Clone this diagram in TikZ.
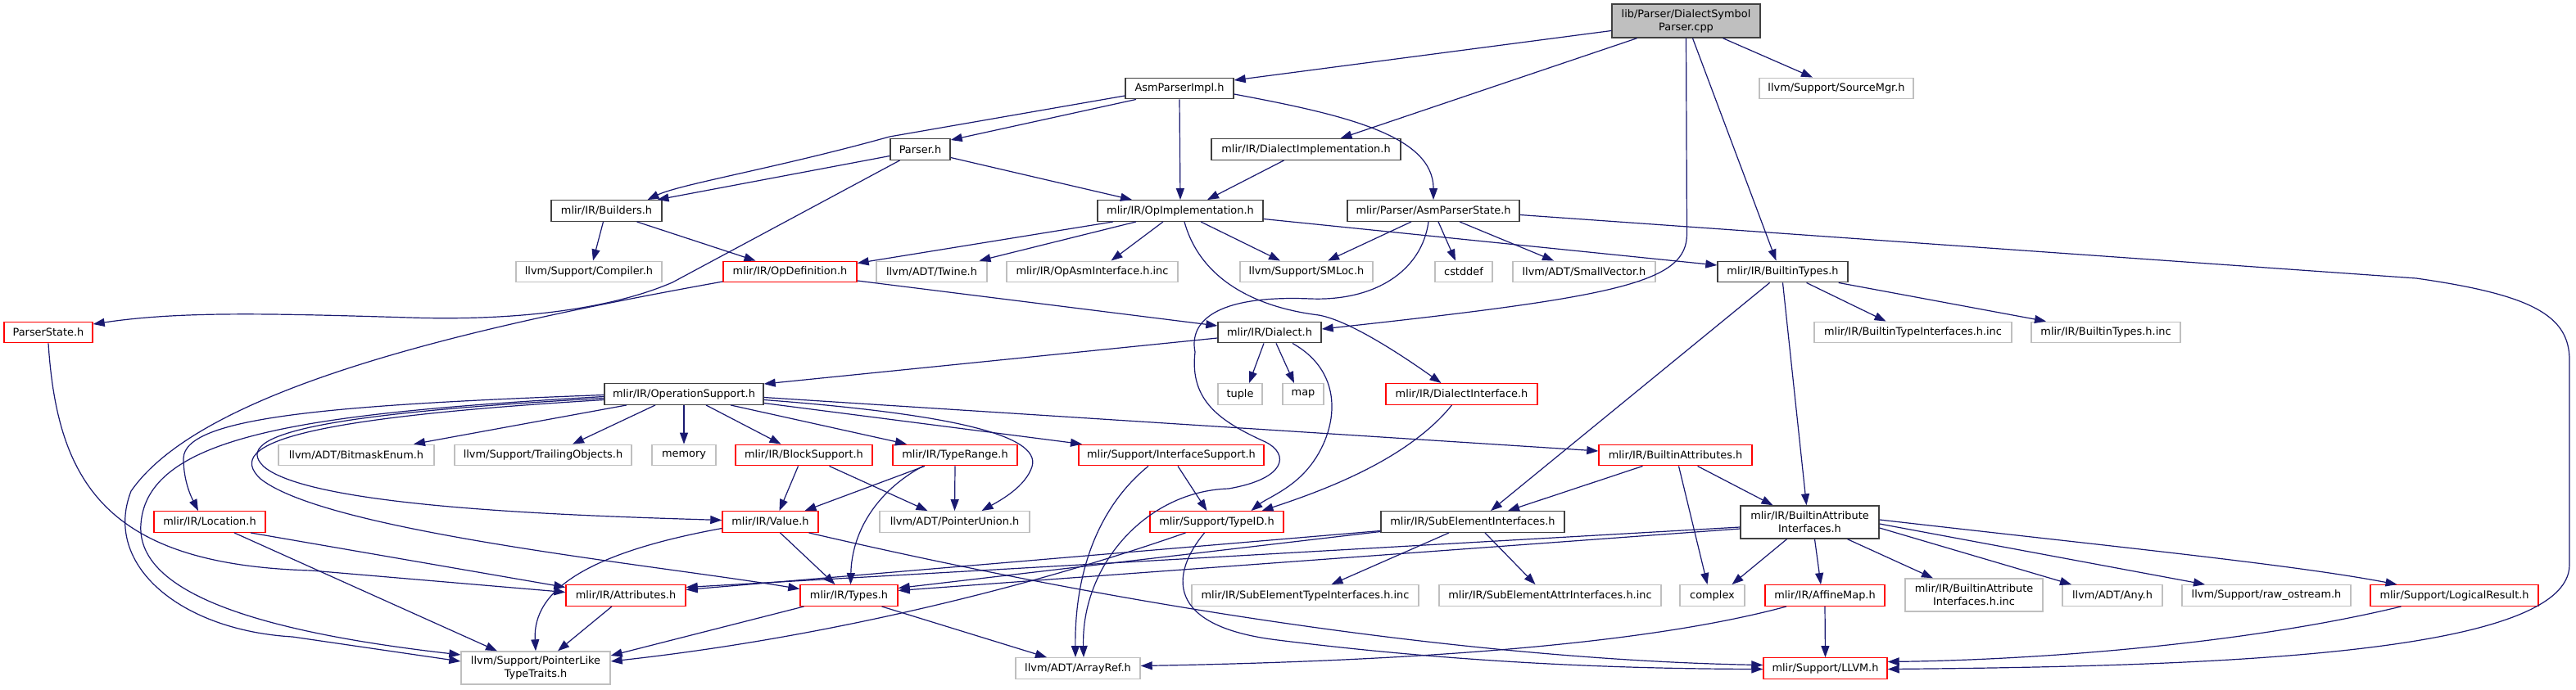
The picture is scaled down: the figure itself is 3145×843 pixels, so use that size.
\documentclass[tikz,border=0pt]{standalone}
\usepackage{fontspec}
\setmainfont{DejaVu Sans}
\usetikzlibrary{arrows.meta,calc}
\definecolor{edgec}{HTML}{191970}
\definecolor{grayb}{HTML}{BFBFBF}
\definecolor{blkb}{HTML}{404040}
\definecolor{redb}{HTML}{FF0000}
\definecolor{topf}{HTML}{BFBFBF}
\begin{document}
\begin{tikzpicture}[x=1pt,y=-1pt,
  nd/.style={rectangle, minimum height=25.5pt, inner xsep=3pt, inner ysep=0pt, font=\fontsize{12.9}{16}\selectfont, line width=1.4pt, align=center, fill=white},
  blk/.style={nd, draw=blkb},
  gry/.style={nd, draw=grayb},
  rd/.style={nd, draw=redb},
  tp/.style={nd, draw=blkb, fill=topf},
  dep/.style={draw=edgec, line width=1.2pt, -{Triangle[length=14pt,width=10pt]}}
]
\fill[white] (0,0) rectangle (3145,843);
\useasboundingbox (0,0) rectangle (3145,843);

\node[tp, minimum width=181pt, minimum height=41pt] (T) at (2058.5,25.5) {lib/Parser/DialectSymbol\\Parser.cpp};
\node[gry, minimum width=188pt] (SM) at (2242,108) {llvm/Support/SourceMgr.h};
\node[blk, minimum width=132pt] (A) at (1440,108) {AsmParserImpl.h};
\node[blk, minimum width=73pt] (P) at (1123.5,182.5) {Parser.h};
\node[blk, minimum width=231pt] (DI) at (1594.5,182.5) {mlir/IR/DialectImplementation.h};
\node[blk, minimum width=135pt] (B) at (740.5,257.5) {mlir/IR/Builders.h};
\node[blk, minimum width=202pt] (OI) at (1441,257.5) {mlir/IR/OpImplementation.h};
\node[blk, minimum width=210pt] (APS) at (1750,257.5) {mlir/Parser/AsmParserState.h};
\node[gry, minimum width=178pt] (CMP) at (719,332) {llvm/Support/Compiler.h};
\node[rd, minimum width=163pt] (OD) at (964.5,332) {mlir/IR/OpDefinition.h};
\node[gry, minimum width=135pt] (TW) at (1137.5,332) {llvm/ADT/Twine.h};
\node[gry, minimum width=209pt] (OAI) at (1333.5,332) {mlir/IR/OpAsmInterface.h.inc};
\node[gry, minimum width=162pt] (SML) at (1595,332) {llvm/Support/SMLoc.h};
\node[gry, minimum width=70pt] (CST) at (1787,332) {cstddef};
\node[gry, minimum width=174pt] (SV) at (1934,332) {llvm/ADT/SmallVector.h};
\node[blk, minimum width=159pt] (BT) at (2176.5,332) {mlir/IR/BuiltinTypes.h};
\node[rd, minimum width=108pt] (PS) at (59,406) {ParserState.h};
\node[blk, minimum width=126pt] (D) at (1550,406) {mlir/IR/Dialect.h};
\node[gry, minimum width=241pt] (BTIi) at (2335.5,406) {mlir/IR/BuiltinTypeInterfaces.h.inc};
\node[gry, minimum width=182pt] (BTi) at (2571,406) {mlir/IR/BuiltinTypes.h.inc};
\node[blk, minimum width=194pt] (OS) at (835,481.5) {mlir/IR/OperationSupport.h};
\node[gry, minimum width=54pt] (TU) at (1514,481.5) {tuple};
\node[gry, minimum width=50pt] (MP) at (1591,481.5) {map};
\node[rd, minimum width=185pt] (DIF) at (1784.5,481.5) {mlir/IR/DialectInterface.h};
\node[gry, minimum width=190pt] (BE) at (435,556) {llvm/ADT/BitmaskEnum.h};
\node[gry, minimum width=216pt] (TO) at (663,556) {llvm/Support/TrailingObjects.h};
\node[gry, minimum width=78pt] (MEM) at (835,556) {memory};
\node[rd, minimum width=167pt] (BS) at (981.5,556) {mlir/IR/BlockSupport.h};
\node[rd, minimum width=152pt] (TR) at (1166,556) {mlir/IR/TypeRange.h};
\node[rd, minimum width=226pt] (IS) at (1430,556) {mlir/Support/InterfaceSupport.h};
\node[rd, minimum width=187pt] (BA) at (2045.5,556) {mlir/IR/BuiltinAttributes.h};
\node[rd, minimum width=136pt] (LOC) at (256,637.5) {mlir/IR/Location.h};
\node[rd, minimum width=117pt] (VAL) at (940.5,637.5) {mlir/IR/Value.h};
\node[gry, minimum width=183pt] (PU) at (1165.5,637.5) {llvm/ADT/PointerUnion.h};
\node[rd, minimum width=163pt] (TID) at (1485.5,637.5) {mlir/Support/TypeID.h};
\node[blk, minimum width=224pt] (SEI) at (1798,637.5) {mlir/IR/SubElementInterfaces.h};
\node[blk, minimum width=169pt, minimum height=40pt] (BAI) at (2209.5,638) {mlir/IR/BuiltinAttribute\\Interfaces.h};
\node[rd, minimum width=146pt] (ATT) at (764,727.5) {mlir/IR/Attributes.h};
\node[rd, minimum width=119pt] (TY) at (1036.5,727.5) {mlir/IR/Types.h};
\node[gry, minimum width=277pt] (SETIi) at (1593.5,727.5) {mlir/IR/SubElementTypeInterfaces.h.inc};
\node[gry, minimum width=271pt] (SEAIi) at (1892.5,727.5) {mlir/IR/SubElementAttrInterfaces.h.inc};
\node[gry, minimum width=79pt] (CX) at (2090.5,727.5) {complex};
\node[rd, minimum width=146pt] (AFF) at (2228,727.5) {mlir/IR/AffineMap.h};
\node[gry, minimum width=168pt, minimum height=40pt] (BAIi) at (2410,727) {mlir/IR/BuiltinAttribute\\Interfaces.h.inc};
\node[gry, minimum width=122pt] (ANY) at (2579,727.5) {llvm/ADT/Any.h};
\node[gry, minimum width=206pt] (RAW) at (2767,727.5) {llvm/Support/raw\_ostream.h};
\node[rd, minimum width=205pt] (LR) at (2996.5,727.5) {mlir/Support/LogicalResult.h};
\node[gry, minimum width=182pt, minimum height=40pt] (PL) at (654,816) {llvm/Support/PointerLike\\TypeTraits.h};
\node[gry, minimum width=152pt] (AR) at (1316,816.5) {llvm/ADT/ArrayRef.h};
\node[rd, minimum width=151pt] (LLVM) at (2228.5,816.5) {mlir/Support/LLVM.h};

% top node
\draw[dep] ($(T.west)+(0,12)$) -- ($(A.east)+(0,-10)$);
\draw[dep] ($(T.south)+(-60,0)$) -- ($(DI.north)+(42,0)$);
\draw[dep] (T.south) -- (2059.5,285) .. controls (2060,345) and (1980,362) .. ($(D.east)+(0,-4)$);
\draw[dep] ($(T.south)+(8,0)$) -- ($(BT.north)+(-8,0)$);
\draw[dep] ($(T.south)+(45,0)$) -- ($(SM.north)+(-29,0)$);
% AsmParserImpl
\draw[dep] ($(A.west)+(0,9)$) -- (1086,167) .. controls (950,205) and (830,225) .. ($(B.north)+(50,0)$);
\draw[dep] ($(A.south)+(-53,0)$) -- ($(P.north east)+(0,2)$);
\draw[dep] (A.south) -- (OI.north);
\draw[dep] ($(A.east)+(0,7)$) .. controls (1640,140) and (1750,165) .. (APS.north);
% Parser.h
\draw[dep] ($(P.west)+(0,8)$) -- ($(B.north)+(62,0)$);
\draw[dep] ($(P.east)+(0,10)$) -- ($(OI.north)+(-59,0)$);
\draw[dep] ($(P.south)+(-25,0)$) -- (821,345) .. controls (740,380) and (620,392) .. (500,388) .. controls (330,383) and (220,380) .. ($(PS.east)+(0,-10)$);
% DialectImplementation
\draw[dep] ($(DI.south)+(-27,0)$) -- ($(OI.north)+(33,0)$);
% Builders
\draw[dep] ($(B.south)+(-4,0)$) -- ($(CMP.north)+(5,0)$);
\draw[dep] ($(B.south)+(37,0)$) -- ($(OD.north)+(-42,0)$);
% OpImplementation
\draw[dep] ($(OI.south)+(-82,0)$) -- ($(OD.north east)+(0,3)$);
\draw[dep] ($(OI.south)+(-54,0)$) -- ($(TW.north)+(58,0)$);
\draw[dep] ($(OI.south)+(-21,0)$) -- ($(OAI.north)+(23,0)$);
\draw[dep] ($(OI.south)+(25,0)$) -- ($(SML.north)+(-32,0)$);
\draw[dep] ($(OI.east)+(0,10)$) -- ($(BT.west)+(0,-8)$);
\draw[dep] ($(OI.south)+(5,0)$) .. controls (1465,340) and (1530,375) .. (1610,385) .. controls (1650,392) and (1720,440) .. ($(DIF.north)+(-25,0)$);
% AsmParserState
\draw[dep] ($(APS.south)+(-27,0)$) -- ($(SML.north)+(26,0)$);
\draw[dep] ($(APS.south)+(6,0)$) -- ($(CST.north)+(-10,0)$);
\draw[dep] ($(APS.south)+(32,0)$) -- ($(SV.north)+(-37,0)$);
\draw[dep] ($(APS.east)+(0,5)$) -- (2950,340) .. controls (3090,360) and (3137,385) .. (3137,440) -- (3137,690) .. controls (3137,800) and (2700,814) .. ($(LLVM.east)+(0,1)$);
\draw[dep] ($(APS.south)+(-6,0)$) .. controls (1736,330) and (1680,368) .. (1600,365) .. controls (1480,360) and (1452,395) .. (1459,430) .. controls (1452,490) and (1490,515) .. (1545,540) .. controls (1575,555) and (1570,585) .. (1500,597) .. controls (1400,600) and (1320,690) .. ($(AR.north)+(7,0)$);
% Dialect.h
\draw[dep] ($(D.west)+(0,7)$) -- ($(OS.north east)+(0,1)$);
\draw[dep] ($(D.south)+(-7,0)$) -- ($(TU.north)+(11,0)$);
\draw[dep] ($(D.south)+(8,0)$) -- ($(MP.north)+(-11,0)$);
\draw[dep] ($(D.south)+(28,0)$) .. controls (1650,460) and (1630,540) .. (1590,580) .. controls (1570,600) and (1545,610) .. ($(TID.north)+(42,0)$);
% OpDefinition
\draw[dep] ($(OD.east)+(0,11)$) -- ($(D.west)+(0,-8)$);
\draw[dep] ($(OD.west)+(0,12)$) .. controls (600,395) and (250,470) .. (160,600) .. controls (125,690) and (220,770) .. (357,778) -- ($(PL.west)+(0,-8)$);
% ParserState
\draw[dep] (PS.south) .. controls (70,590) and (130,690) .. (380,697) -- ($(ATT.west)+(0,-4)$);
% OperationSupport
\draw[dep] ($(OS.south)+(-70,0)$) -- ($(BE.north)+(70,0)$);
\draw[dep] ($(OS.south)+(-35,0)$) -- ($(TO.north)+(36,0)$);
\draw[dep] (OS.south) -- (MEM.north);
\draw[dep] ($(OS.south)+(27,0)$) -- ($(BS.north)+(-28,0)$);
\draw[dep] ($(OS.south)+(57,0)$) -- ($(TR.north)+(-59,0)$);
\draw[dep] ($(OS.east)+(0,11)$) -- ($(IS.north)+(-109,0)$);
\draw[dep] ($(OS.east)+(0,7)$) .. controls (1150,505) and (1272,530) .. (1260,570) .. controls (1252,595) and (1220,612) .. ($(PU.north)+(33,0)$);
\draw[dep] ($(OS.east)+(0,4)$) -- ($(BA.west)+(0,-5)$);
\draw[dep] ($(OS.west)+(0,1)$) .. controls (400,495) and (225,510) .. (224,560) .. controls (224,590) and (235,610) .. ($(LOC.north)+(-14,0)$);
\draw[dep] ($(OS.west)+(0,3)$) .. controls (380,505) and (180,530) .. (172,640) .. controls (166,720) and (300,770) .. ($(PL.west)+(0,-16)$);
\draw[dep] ($(OS.west)+(0,5)$) .. controls (400,505) and (280,530) .. (322,570) .. controls (380,620) and (700,630) .. ($(VAL.west)+(0,-2)$);
\draw[dep] ($(OS.west)+(0,7)$) .. controls (380,510) and (270,540) .. (318,585) .. controls (400,650) and (800,690) .. ($(TY.west)+(0,-8)$);
% Location
\draw[dep] ($(LOC.south)+(50,0)$) -- ($(ATT.west)+(0,-10)$);
\draw[dep] ($(LOC.south)+(30,0)$) -- ($(PL.north)+(-47,0)$);
% BlockSupport, TypeRange, InterfaceSupport
\draw[dep] ($(BS.south)+(-7,0)$) -- ($(VAL.north)+(11,0)$);
\draw[dep] ($(BS.south)+(31,0)$) -- ($(PU.north)+(-33,0)$);
\draw[dep] ($(TR.south)+(-37,0)$) -- ($(VAL.north)+(42,0)$);
\draw[dep] (TR.south) -- (PU.north);
\draw[dep] ($(TR.south)+(-39,0)$) .. controls (1070,600) and (1040,650) .. ($(TY.north)+(2,0)$);
\draw[dep] ($(IS.south)+(8,0)$) -- ($(TID.north)+(-12,0)$);
\draw[dep] ($(IS.south)+(-28,0)$) .. controls (1340,620) and (1312,700) .. ($(AR.north)+(-3,0)$);
% Value
\draw[dep] ($(VAL.south)+(12,0)$) -- ($(TY.north)+(-17,0)$);
\draw[dep] ($(VAL.west)+(0,8)$) .. controls (720,675) and (650,720) .. (PL.north);
\draw[dep] ($(VAL.south)+(47,0)$) .. controls (1500,770) and (1900,808) .. ($(LLVM.west)+(0,-4)$);
% TypeID
\draw[dep] ($(TID.south)+(-38,0)$) .. controls (1250,720) and (1000,780) .. ($(PL.east)+(0,-8)$);
\draw[dep] ($(TID.south)+(-15,0)$) .. controls (1430,700) and (1420,765) .. (1560,782) .. controls (1800,812) and (2000,817) .. ($(LLVM.west)+(0,1)$);
% DialectInterface
\draw[dep] ($(DIF.south)+(-12,0)$) .. controls (1720,560) and (1620,598) .. ($(TID.north)+(55,0)$);
% BuiltinTypes
\draw[dep] ($(BT.south)+(-16,0)$) -- ($(SEI.north)+(22,0)$);
\draw[dep] (BT.south) -- ($(BAI.north)+(-4,0)$);
\draw[dep] ($(BT.south)+(29,0)$) -- ($(BTIi.north)+(-33,0)$);
\draw[dep] ($(BT.south east)+(-12,0)$) -- ($(BTi.north)+(-73,0)$);
% BuiltinAttributes
\draw[dep] ($(BA.south)+(-40,0)$) -- ($(SEI.north)+(43,0)$);
\draw[dep] ($(BA.south)+(4,0)$) -- ($(CX.north)+(-6,0)$);
\draw[dep] ($(BA.south)+(27,0)$) -- ($(BAI.north)+(-45,0)$);
% SubElementInterfaces
\draw[dep] ($(SEI.south)+(-29,0)$) -- ($(SETIi.north)+(32,0)$);
\draw[dep] ($(SEI.south)+(15,0)$) -- ($(SEAIi.north)+(-18,0)$);
\draw[dep] ($(SEI.west)+(0,11)$) -- ($(ATT.east)+(0,-7)$);
\draw[dep] ($(SEI.west)+(0,12)$) -- ($(TY.east)+(0,-9)$);
% BuiltinAttributeInterfaces
\draw[dep] ($(BAI.west)+(0,6)$) -- ($(ATT.east)+(0,-10)$);
\draw[dep] ($(BAI.west)+(0,8)$) -- ($(TY.east)+(0,-6)$);
\draw[dep] ($(BAI.south)+(-28,0)$) -- ($(CX.north)+(24,0)$);
\draw[dep] ($(BAI.south)+(6,0)$) -- ($(AFF.north)+(-5,0)$);
\draw[dep] ($(BAI.south)+(46,0)$) -- ($(BAIi.north)+(-50,0)$);
\draw[dep] ($(BAI.east)+(0,7)$) -- ($(ANY.north)+(-50,0)$);
\draw[dep] ($(BAI.east)+(0,2)$) -- ($(RAW.north)+(-75,0)$);
\draw[dep] ($(BAI.east)+(0,-3)$) .. controls (2600,670) and (2800,690) .. ($(LR.north)+(-70,0)$);
% AffineMap, LogicalResult
\draw[dep] ($(AFF.south)+(-47,0)$) .. controls (2000,790) and (1700,808) .. ($(AR.east)+(0,-3)$);
\draw[dep] (AFF.south) -- (LLVM.north);
\draw[dep] ($(LR.south)+(-65,0)$) .. controls (2750,785) and (2500,806) .. ($(LLVM.east)+(0,-8)$);
% Types, Attributes
\draw[dep] ($(TY.south)+(-55,0)$) -- ($(PL.east)+(0,-15)$);
\draw[dep] ($(TY.south)+(40,0)$) -- ($(AR.north)+(-38,0)$);
\draw[dep] ($(ATT.south)+(-17,0)$) -- ($(PL.north)+(27,0)$);
\end{tikzpicture}
\end{document}
